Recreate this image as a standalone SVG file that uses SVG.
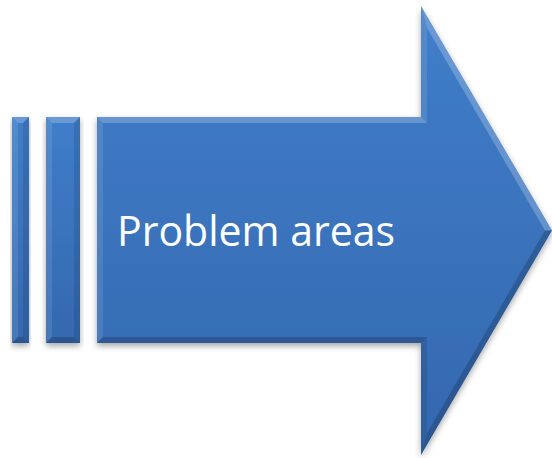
<svg xmlns="http://www.w3.org/2000/svg" width="552" height="458" viewBox="0 0 552 458">
  <defs>
    <linearGradient id="fillGrad" x1="0" y1="0" x2="0" y2="1">
      <stop offset="0" stop-color="#407EC9"/>
      <stop offset="1" stop-color="#3468AF"/>
    </linearGradient>
    <filter id="shadow" x="-10%" y="-10%" width="120%" height="120%">
      <feDropShadow dx="0" dy="3" stdDeviation="3" flood-color="#000" flood-opacity="0.35"/>
    </filter>
  </defs>
  <style>
    .shape { fill: url(#fillGrad); }
    .hi { fill: #ffffff; fill-opacity: 0.22; }
    .hi2 { fill: #ffffff; fill-opacity: 0.10; }
    .lo { fill: #000000; fill-opacity: 0.18; }
    .lo2 { fill: #000000; fill-opacity: 0.10; }
    .label { font-family: "Open Sans", "Noto Sans", "Liberation Sans", sans-serif; font-size: 42px; fill: #ffffff; }
  </style>

  <g id="bar1">
    <rect class="shape" x="12" y="117" width="17" height="226" filter="url(#shadow)"/>
    <polygon class="hi" points="12,117 29,117 23,123 18,123"/>
    <polygon class="hi2" points="12,117 18,123 18,337 12,343"/>
    <polygon class="lo2" points="29,117 29,343 23,337 23,123"/>
    <polygon class="lo" points="12,343 29,343 23,337 18,337"/>
  </g>

  <g id="bar2">
    <rect class="shape" x="46" y="117" width="34" height="226" filter="url(#shadow)"/>
    <polygon class="hi" points="46,117 80,117 74,123 52,123"/>
    <polygon class="hi2" points="46,117 52,123 52,337 46,343"/>
    <polygon class="lo2" points="80,117 80,343 74,337 74,123"/>
    <polygon class="lo" points="46,343 80,343 74,337 52,337"/>
  </g>

  <g id="arrow">
    <polygon class="shape" points="97,117 421,117 421,6 552,230.5 421,455 421,343 97,343" filter="url(#shadow)"/>
    <polygon class="hi" points="97,117 421,117 427,123 103,123"/>
    <polygon class="hi2" points="97,117 103,123 103,337 97,343"/>
    <polygon class="hi2" points="421,117 421,6 427,28 427,123"/>
    <polygon class="hi" points="421,6 552,230.5 545,230.5 427,28"/>
    <polygon class="lo" points="552,230.5 421,455 427,433 545,230.5"/>
    <polygon class="lo2" points="421,455 421,343 427,337 427,433"/>
    <polygon class="lo" points="421,343 97,343 103,337 427,337"/>
    <text class="label" x="117" y="246" textLength="278" lengthAdjust="spacingAndGlyphs">Problem areas</text>
  </g>
</svg>
